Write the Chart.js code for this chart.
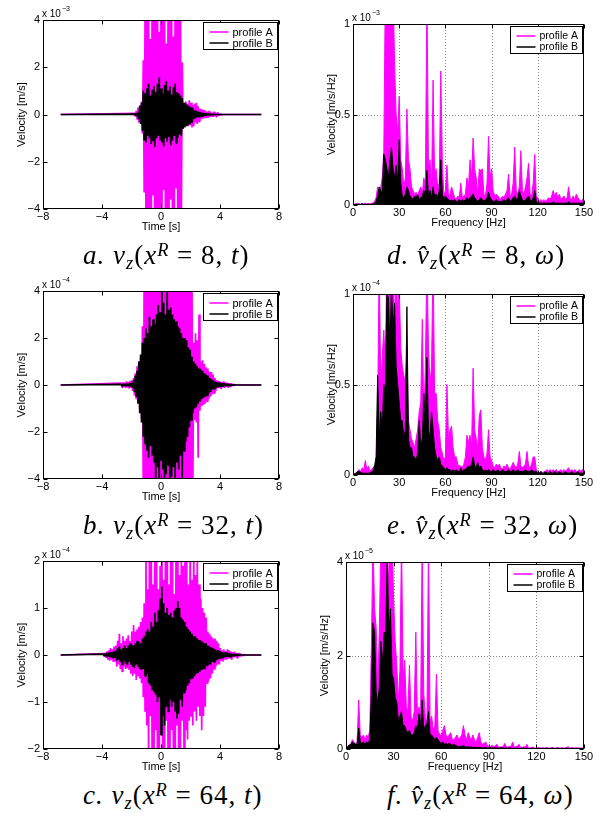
<!DOCTYPE html>
<html>
<head>
<meta charset="utf-8">
<script src="https://cdn.jsdelivr.net/npm/chart.js@4.4.1/dist/chart.umd.min.js"></script>
<style>
  body { margin: 0; background: #fff; width: 614px; height: 817px; position: relative; overflow: hidden; }
  canvas { position: absolute; }
  .cap { position: absolute; font-family: "Liberation Serif", serif; font-size: 27px; line-height: 27px; letter-spacing: 1px; white-space: nowrap; color: #000; }
  .cap .sb { position: relative; top: 0.28em; font-size: 68%; font-style: italic; }
  .cap .sp { position: relative; top: -0.42em; font-size: 68%; font-style: italic; }
</style>
</head>
<body>
<canvas id="pa" width="300" height="240" style="left:0;top:0"></canvas>
<canvas id="pd" width="314" height="240" style="left:300px;top:0"></canvas>
<canvas id="pb" width="300" height="240" style="left:0;top:270px"></canvas>
<canvas id="pe" width="314" height="240" style="left:300px;top:270px"></canvas>
<canvas id="pc" width="300" height="240" style="left:0;top:540px"></canvas>
<canvas id="pf" width="314" height="240" style="left:300px;top:540px"></canvas>

<div class="cap" style="left:83px;top:242px"><i>a.</i>&nbsp;<i>v</i><span class="sb">z</span>(<i>x</i><span class="sp">R</span> = 8, <i>t</i>)</div>
<div class="cap" style="left:387px;top:242px"><i>d.</i>&nbsp;<i>v̂</i><span class="sb">z</span>(<i>x</i><span class="sp">R</span> = 8, <i>ω</i>)</div>
<div class="cap" style="left:83px;top:512px"><i>b.</i>&nbsp;<i>v</i><span class="sb">z</span>(<i>x</i><span class="sp">R</span> = 32, <i>t</i>)</div>
<div class="cap" style="left:387px;top:512px"><i>e.</i>&nbsp;<i>v̂</i><span class="sb">z</span>(<i>x</i><span class="sp">R</span> = 32, <i>ω</i>)</div>
<div class="cap" style="left:83px;top:782px"><i>c.</i>&nbsp;<i>v</i><span class="sb">z</span>(<i>x</i><span class="sp">R</span> = 64, <i>t</i>)</div>
<div class="cap" style="left:387px;top:782px"><i>f.</i>&nbsp;<i>v̂</i><span class="sb">z</span>(<i>x</i><span class="sp">R</span> = 64, <i>ω</i>)</div>

<script>
// record runs from -6.8 s to 6.8 s, quiet (zero) outside the listed samples
const recordStart = -6.8;
const recordEnd = 6.8;
const timeStep = 0.06;   // s between listed samples
const freqStep = 1;      // Hz between spectrum samples, starting at 0 Hz

// a. x^R = 8, velocity in 1e-3 m/s, samples from aStart
const aStart = -1.8;
const aProfileA = [
  0.05,-0.08,0.15,-0.2,0.3,-0.35,0.4,-0.3,0.55,-0.8,
  2.3,-3.3,4.6,-4.8,5.2,-4.5,4.8,-5.1,3.2,-4.9,
  5.3,-3.4,4.5,-5.4,4.9,-4.3,5.5,-4.4,3.5,-5.0,
  4.6,-5.3,4.8,-3.2,5.6,-4.8,3.0,-5.2,4.7,-4.7,
  5.1,-3.6,4.5,-5.0,3.3,-4.6,5.3,-3.1,4.3,-4.9,
  4.8,-4.3,4.9,-4.4,2.2,-0.6,0.5,-0.45,0.55,-0.4,
  0.45,-0.5,0.6,-0.45,0.5,-0.55,0.4,-0.5,0.45,-0.35,
  0.5,-0.4,0.35,-0.3,0.25,-0.2,0.22,-0.18,0.2,-0.15,
  0.18,-0.15,0.12,-0.14,0.15,-0.1,0.12,-0.1,0.08,-0.1,
  0.12,-0.08,0.06,-0.12,0.1,-0.06,0.04,-0.03,0.02,-0.01,
  0
];
const aProfileB = [
  0.02,-0.03,0.05,-0.06,0.1,-0.2,0.35,-0.4,0.5,-0.7,
  1.0,-1.1,0.9,-1.2,1.1,-0.9,1.3,-1.0,0.8,-1.25,
  1.05,-1.1,1.2,-1.37,0.95,-1.0,1.3,-0.9,1.57,-1.1,
  1.1,-1.2,0.9,-1.35,1.25,-1.0,1.4,-1.15,1.0,-0.95,
  1.2,-1.3,0.85,-1.1,1.15,-0.9,1.3,-1.2,0.95,-1.0,
  0.9,-0.85,0.8,-0.9,0.7,-0.6,0.5,-0.55,0.45,-0.5,
  0.4,-0.45,0.35,-0.4,0.3,-0.35,0.25,-0.2,0.18,-0.15,
  0.15,-0.12,0.12,-0.1,0.1,-0.08,0.08,-0.1,0.06,-0.05,
  0.05,-0.05,0.04,-0.03,0.04,-0.03,0.02,-0.02,0.02,-0.01,
  0,0,0,0,0,0,0,0,0,0,
  0
];

// b. x^R = 32, velocity in 1e-4 m/s
const bStart = -2.7;
const bProfileA = [
  0.08,-0.1,0.12,-0.08,0.1,-0.12,0.15,-0.1,0.12,-0.15,0.18,-0.12,0.2,-0.25,0.3,
  -0.45,0.5,-0.6,0.8,-0.7,1.0,-1.1,1.2,-1.4,2.5,
  -4.8,5.2,-5.6,4.6,-5.1,5.8,-4.5,5.3,-5.9,4.9,
  -5.2,5.6,-4.7,5.1,-5.5,4.8,-6.0,5.4,-4.9,5.7,
  -5.3,4.7,-5.8,5.5,-4.6,5.9,-5.1,4.8,-5.6,5.2,
  -4.9,5.6,-5.4,4.6,-5.7,5.1,-4.8,5.5,-5.2,4.9,
  -5.6,5.3,-4.7,5.8,-5.0,4.6,-5.4,5.1,-4.5,4.8,
  -5.2,4.4,-4.9,4.6,-4.3,4.5,-4.2,
  1.8,-1.5,2.2,-1.6,1.9,-3.1,3.0,
  -1.1,1.0,-0.9,1.05,-0.85,0.9,-0.8,0.75,-0.7,0.7,-0.6,0.55,-0.5,0.55,
  -0.4,0.45,-0.35,0.3,-0.25,0.2,
  -0.15,0.18,-0.12,0.15,-0.18,0.12,-0.1,0.15,-0.12,0.1,-0.08,0.1,-0.12,0.08,-0.06,0.08,-0.05,
  0.04,-0.03,0.02,-0.01,0
];
const bProfileB = [
  0.03,-0.04,0.05,-0.03,0.04,-0.05,0.06,-0.04,0.05,-0.06,0.08,-0.06,0.1,-0.12,0.2,
  -0.3,0.4,-0.5,0.6,-0.8,1.0,-1.2,1.3,-1.6,1.8,
  -2.2,2.0,-2.5,2.4,-2.8,2.2,-3.1,2.9,-2.6,2.5,-3.0,
  2.8,-3.3,2.6,-4.2,3.0,-3.5,3.4,-4.5,3.1,-3.2,4.3,
  -3.6,3.5,-4.4,3.0,-3.8,4.2,-3.4,3.2,-4.6,3.3,-3.9,3.0,-3.5,2.8,
  -4.3,2.7,-3.3,2.5,-3.6,2.4,-3.0,2.2,-4.1,2.0,-2.8,2.0,
  -2.4,1.9,-2.2,1.6,-1.8,1.5,-1.5,1.2,-1.2,
  1.0,-1.0,0.9,-0.95,0.8,-0.8,0.7,
  -0.7,0.65,-0.6,0.6,-0.55,0.5,-0.5,0.45,-0.45,0.4,-0.35,0.3,-0.3,0.25,
  -0.2,0.2,-0.15,0.15,-0.12,0.12,
  -0.1,0.1,-0.08,0.1,-0.08,0.06,-0.06,0.08,-0.05,0.05,-0.04,0.05,-0.04,0.03,-0.03,0.03,-0.02,
  0.02,-0.01,0.01,0,0
];

// c. x^R = 64, velocity in 1e-4 m/s
const cStart = -3.9;
const cProfileA = [
  0.03,-0.04,0.05,-0.06,0.08,-0.1,0.1,-0.12,0.15,-0.1,0.12,-0.15,0.18,-0.14,0.2,
  -0.25,0.3,-0.2,0.45,-0.3,0.25,-0.35,0.4,-0.25,0.3,-0.3,0.35,-0.28,0.42,-0.32,0.3,-0.4,
  0.5,-0.45,0.64,-0.4,0.5,-0.53,0.55,-0.45,0.6,-0.5,0.7,-0.6,0.8,
  -0.9,1.1,-1.2,2.4,-1.5,1.4,-2.3,2.6,-1.3,2.2,
  -2.5,1.5,-2.8,2.4,-1.6,2.9,-2.4,1.4,-2.6,1.9,
  -1.5,2.7,-2.4,1.6,-2.9,2.3,-1.4,2.8,-2.5,1.5,
  -2.7,2.4,-1.6,2.6,-2.3,1.3,-2.8,2.5,-1.5,2.3,
  -2.6,1.7,-2.2,2.2,-1.4,1.9,-2.1,2.7,-1.6,2.4,
  -1.8,1.5,-1.4,2.5,-1.3,1.6,-1.5,2.3,-1.2,1.7,
  -1.4,2.1,-1.1,1.5,-1.3,
  1.2,-1.6,1.0,-1.3,0.9,-1.1,0.8,
  -0.6,0.5,-0.55,0.45,-0.5,0.4,-0.4,0.35,-0.3,0.35,-0.25,0.3,-0.2,0.25,-0.2,
  0.15,-0.12,0.1,-0.14,0.12,-0.1,0.08,-0.1,0.12,-0.08,0.1,-0.06,0.08,-0.1,0.06,-0.05,0.07,-0.05,0.04,-0.06,0.05,-0.03,0.04,-0.03,0.02,
  -0.02,0.01,-0.01,0
];
const cProfileB = [
  0.02,-0.02,0.03,-0.03,0.04,-0.03,0.05,-0.04,0.06,-0.05,0.06,-0.07,0.08,-0.06,0.1,
  -0.12,0.15,-0.1,0.18,-0.15,0.12,-0.2,0.15,-0.12,0.2,-0.18,0.15,-0.22,0.2,-0.15,0.25,-0.2,
  0.22,-0.25,0.2,-0.28,0.25,-0.2,0.3,-0.25,0.28,-0.3,0.25,-0.32,0.35,
  -0.3,0.4,-0.45,0.5,-0.4,0.55,-0.6,0.5,-0.65,0.7,
  -0.75,0.6,-0.8,0.9,-0.85,0.7,-1.0,0.95,-0.9,1.2,
  -1.7,1.45,-1.3,1.1,-1.5,0.9,-1.1,1.0,-1.2,0.85,
  -0.95,0.9,-1.1,0.8,-1.0,0.95,-1.2,1.0,-1.35,1.15,
  -1.25,1.0,-0.95,0.8,-1.1,0.75,-0.8,0.7,-0.75,0.6,
  -0.65,0.55,-0.6,0.5,-0.5,0.45,-0.5,0.4,-0.45,0.4,
  -0.4,0.35,-0.38,0.32,-0.35,
  0.3,-0.32,0.28,-0.3,0.25,-0.3,0.25,
  -0.22,0.2,-0.2,0.18,-0.2,0.16,-0.15,0.14,-0.15,0.12,-0.12,0.1,-0.1,0.1,-0.08,
  0.08,-0.07,0.06,-0.07,0.05,-0.05,0.06,-0.04,0.05,-0.04,0.03,-0.04,0.03,-0.03,0.02,-0.03,0.02,-0.02,0.02,-0.01,0.01,-0.01,0.01,0,0,
  0,0,0,0
];

// d. spectrum x^R = 8, in 1e-3 m/s/Hz, 0..150 Hz
const dProfileA = [
  0,0.005,0.005,0.01,0.005,0.005,0.008,0.005,0.01,0.005,
  0.008,0.005,0.01,0.01,0.02,0.04,0.1,0.06,0.1,0.15,
  0.3,1.2,1.3,1.2,1.4,1.3,1.2,0.78,0.5,0.4,
  0.6,0.25,0.2,0.1,0.15,0.53,0.25,0.2,0.1,0.08,
  0.06,0.07,0.05,0.08,0.1,0.06,0.15,0.1,1.2,0.2,
  0.25,0.1,0.69,0.15,0.2,0.1,0.12,0.74,0.25,0.05,
  0.08,0.22,0.05,0.06,0.1,0.07,0.04,0.03,0.05,0.04,
  0.12,0.04,0.05,0.06,0.15,0.1,0.25,0.15,0.37,0.2,
  0.15,0.06,0.2,0.19,0.2,0.06,0.05,0.12,0.38,0.15,
  0.2,0.08,0.05,0.06,0.05,0.04,0.03,0.05,0.04,0.06,
  0.08,0.17,0.05,0.06,0.12,0.32,0.08,0.06,0.1,0.3,
  0.08,0.06,0.1,0.15,0.23,0.06,0.05,0.12,0.28,0.05,
  0.04,0.02,0.03,0.02,0.03,0.02,0.03,0.04,0.03,0.05,
  0.08,0.05,0.07,0.04,0.06,0.03,0.04,0.05,0.03,0.04,
  0.1,0.04,0.03,0.05,0.03,0.06,0.04,0.03,0.02,0.03,0.04
];
const dProfileB = [
  0,0.003,0.005,0.003,0.005,0.003,0.008,0.003,0.005,0.003,
  0.005,0.003,0.005,0.005,0.01,0.02,0.05,0.1,0.08,0.06,
  0.28,0.25,0.2,0.15,0.25,0.32,0.2,0.15,0.22,0.12,
  0.36,0.12,0.05,0.04,0.06,0.1,0.08,0.05,0.04,0.03,
  0.05,0.04,0.06,0.03,0.04,0.05,0.08,0.06,0.19,0.05,
  0.08,0.04,0.1,0.05,0.06,0.04,0.08,0.25,0.06,0.03,
  0.05,0.04,0.03,0.02,0.03,0.02,0.03,0.02,0.02,0.03,
  0.02,0.03,0.02,0.03,0.04,0.03,0.04,0.05,0.06,0.04,
  0.03,0.02,0.03,0.04,0.03,0.02,0.03,0.04,0.07,0.04,
  0.03,0.02,0.02,0.03,0.02,0.02,0.02,0.02,0.03,0.02,
  0.03,0.04,0.02,0.03,0.04,0.05,0.03,0.04,0.08,0.05,
  0.03,0.02,0.03,0.04,0.05,0.03,0.02,0.04,0.08,0.02,
  0.01,0.01,0.01,0.01,0.01,0.01,0.01,0.01,0.01,0.01,
  0.02,0.01,0.01,0.01,0.01,0.01,0.01,0.01,0.01,0.01,
  0.02,0.01,0.01,0.01,0.01,0.01,0.01,0.01,0.01,0.01,0.01
];

// e. spectrum x^R = 32, in 1e-4 m/s/Hz
const eProfileA = [
  0,0.01,0.01,0.02,0.03,0.02,0.04,0.03,0.08,0.03,
  0.05,0.02,0.03,0.04,0.05,0.05,0.35,1.2,0.5,0.65,
  0.8,0.6,1.2,1.3,1.25,1.3,1.2,0.85,1.1,0.9,
  1.05,0.7,0.6,0.55,0.5,0.7,0.3,0.25,0.2,0.18,
  0.15,0.2,0.25,0.35,0.4,0.86,0.3,0.6,1.2,0.7,
  0.5,0.6,1.2,0.45,0.45,0.3,0.25,0.15,0.12,0.08,
  0.1,0.5,0.2,0.25,0.27,0.15,0.1,0.1,0.06,0.05,
  0.05,0.04,0.06,0.1,0.22,0.18,0.22,0.15,0.59,0.25,
  0.2,0.15,0.33,0.36,0.15,0.1,0.08,0.12,0.25,0.1,
  0.08,0.05,0.04,0.06,0.05,0.06,0.04,0.03,0.05,0.04,
  0.06,0.04,0.03,0.05,0.07,0.05,0.04,0.06,0.13,0.05,
  0.04,0.05,0.06,0.13,0.05,0.04,0.06,0.1,0.1,0.03,
  0.02,0.01,0.02,0.01,0.02,0.02,0.03,0.02,0.03,0.02,
  0.03,0.02,0.03,0.02,0.02,0.03,0.02,0.03,0.02,0.03,
  0.04,0.02,0.03,0.02,0.03,0.02,0.02,0.03,0.02,0.03,0.02
];
const eProfileB = [
  0,0.005,0.01,0.02,0.02,0.015,0.01,0.01,0.01,0.01,
  0.01,0.01,0.02,0.02,0.05,0.1,0.55,0.2,0.35,0.25,
  0.5,0.45,1.0,0.98,0.7,1.05,0.8,0.95,0.6,0.5,
  0.4,0.3,0.3,0.2,0.25,0.93,0.2,0.15,0.15,0.1,
  0.1,0.08,0.12,0.3,0.15,0.2,0.45,0.3,0.65,0.25,
  0.2,0.35,0.25,0.15,0.1,0.08,0.1,0.06,0.05,0.04,
  0.03,0.04,0.03,0.03,0.02,0.03,0.02,0.03,0.02,0.02,
  0.04,0.02,0.03,0.03,0.04,0.05,0.04,0.06,0.1,0.05,
  0.04,0.07,0.04,0.05,0.03,0.02,0.03,0.02,0.03,0.02,
  0.02,0.03,0.02,0.02,0.03,0.02,0.02,0.03,0.02,0.02,
  0.02,0.03,0.02,0.02,0.03,0.02,0.02,0.03,0.02,0.02,
  0.02,0.02,0.03,0.02,0.02,0.02,0.03,0.02,0.02,0.02,
  0.01,0.01,0.02,0.01,0.01,0.02,0.01,0.01,0.02,0.01,
  0.01,0.02,0.01,0.01,0.02,0.01,0.01,0.01,0.02,0.01,
  0.01,0.01,0.02,0.01,0.01,0.01,0.02,0.01,0.01,0.01,0.01
];

// f. spectrum x^R = 64, in 1e-5 m/s/Hz
const fProfileA = [
  0,0.05,0.08,0.1,0.2,0.15,0.1,0.15,1.05,0.3,
  0.25,0.3,0.2,0.3,0.25,0.4,2.2,4.5,3.0,2.6,
  1.4,2.5,4.5,4.6,4.5,4.7,4.4,3.5,4.5,4.6,
  3.2,2.3,1.8,1.0,1.7,4.5,1.5,1.9,0.9,0.8,
  1.8,0.7,0.6,0.8,2.5,0.7,0.9,0.6,4.5,1.2,
  0.7,0.5,4.5,0.6,0.7,0.4,0.5,1.6,0.4,0.3,
  0.3,0.4,0.5,0.3,0.25,0.3,0.35,0.2,0.2,0.25,
  0.3,0.2,0.25,0.3,0.5,0.3,0.2,0.35,0.25,0.2,
  0.3,0.2,0.15,0.25,0.35,0.15,0.1,0.12,0.15,0.08,
  0.06,0.05,0.08,0.05,0.06,0.1,0.05,0.04,0.05,0.04,
  0.12,0.05,0.04,0.06,0.05,0.15,0.04,0.05,0.06,0.1,
  0.04,0.03,0.05,0.04,0.1,0.03,0.02,0.03,0.04,0.02,
  0.02,0.03,0.02,0.02,0.03,0.02,0.02,0.03,0.02,0.02,
  0.03,0.02,0.02,0.03,0.02,0.02,0.03,0.02,0.02,0.03,
  0.05,0.02,0.03,0.02,0.02,0.03,0.02,0.02,0.02,0.02,0.02
];
const fProfileB = [
  0,0.05,0.08,0.1,0.15,0.12,0.1,0.1,0.45,0.15,
  0.12,0.15,0.1,0.15,0.12,0.2,1.2,2.7,2.5,1.2,
  1.0,1.3,2.3,1.8,2.5,2.4,4.2,2.4,3.0,1.6,
  1.5,1.1,1.0,0.6,0.7,0.8,0.5,0.5,0.4,0.35,
  0.4,0.3,0.3,0.35,0.5,0.4,0.75,0.5,1.05,0.4,
  0.5,0.55,0.8,0.3,0.3,0.25,0.2,0.25,0.2,0.15,
  0.12,0.15,0.1,0.12,0.1,0.12,0.1,0.08,0.1,0.08,
  0.06,0.05,0.06,0.05,0.08,0.05,0.04,0.05,0.04,0.04,
  0.03,0.04,0.03,0.03,0.04,0.03,0.02,0.03,0.03,0.02,
  0.02,0.03,0.02,0.02,0.03,0.02,0.02,0.02,0.03,0.02,
  0.02,0.02,0.01,0.02,0.02,0.01,0.02,0.01,0.02,0.01,
  0.01,0.02,0.02,0.01,0.02,0.01,0.01,0.02,0.01,0.01,
  0.01,0.01,0.02,0.01,0.01,0.01,0.02,0.01,0.01,0.01,
  0.02,0.01,0.01,0.01,0.02,0.01,0.01,0.01,0.01,0.02,
  0.01,0.01,0.01,0.02,0.01,0.01,0.01,0.01,0.01,0.01,0.01
];

const legendLabels = ['profile A', 'profile B'];
const colorA = '#ff00ff';
const colorB = '#000000';

function timePoints(start, vals) {
  const pts = [{ x: recordStart, y: 0 }];
  vals.forEach((v, i) => pts.push({ x: +(start + i * timeStep).toFixed(3), y: v }));
  pts.push({ x: recordEnd, y: 0 });
  return pts;
}
function specPoints(vals) {
  return vals.map((v, i) => ({ x: i * freqStep, y: v }));
}
const fmt = v => (v < 0 ? '\u2212' : '') + Math.abs(v);

// MATLAB style box, inward ticks, dotted grid, legend and exponent label
const matlabAxes = {
  id: 'matlabAxes',
  beforeDatasetsDraw(chart, args, o) {
    if (!o.grid) return;
    const { ctx, chartArea: a, scales: { x, y } } = chart;
    ctx.save();
    ctx.strokeStyle = '#8a8a8a';
    ctx.lineWidth = 1;
    ctx.setLineDash([1, 2]);
    x.ticks.forEach(t => {
      const px = Math.round(x.getPixelForValue(t.value)) + 0.5;
      if (px < a.left + 2 || px > a.right - 2) return;
      ctx.beginPath(); ctx.moveTo(px, a.top); ctx.lineTo(px, a.bottom); ctx.stroke();
    });
    y.ticks.forEach(t => {
      const py = Math.round(y.getPixelForValue(t.value)) + 0.5;
      if (py < a.top + 2 || py > a.bottom - 2) return;
      ctx.beginPath(); ctx.moveTo(a.left, py); ctx.lineTo(a.right, py); ctx.stroke();
    });
    ctx.restore();
  },
  afterDatasetsDraw(chart, args, o) {
    const { ctx, chartArea: a, scales: { x, y } } = chart;
    const L = Math.round(a.left) + 0.5, R = Math.round(a.right) - 0.5;
    const T = Math.round(a.top) + 0.5, B = Math.round(a.bottom) - 0.5;
    ctx.save();
    ctx.strokeStyle = '#000';
    ctx.lineWidth = 1;
    ctx.strokeRect(L, T, R - L, B - T);
    const tl = 4;
    ctx.beginPath();
    x.ticks.forEach(t => {
      const px = Math.round(x.getPixelForValue(t.value)) + 0.5;
      ctx.moveTo(px, B); ctx.lineTo(px, B - tl);
      ctx.moveTo(px, T); ctx.lineTo(px, T + tl);
    });
    y.ticks.forEach(t => {
      const py = Math.round(y.getPixelForValue(t.value)) + 0.5;
      ctx.moveTo(L, py); ctx.lineTo(L + tl, py);
      ctx.moveTo(R, py); ctx.lineTo(R - tl, py);
    });
    ctx.stroke();

    // exponent
    ctx.fillStyle = '#000';
    ctx.textAlign = 'left';
    ctx.textBaseline = 'alphabetic';
    ctx.font = '10px "Liberation Sans", Arial, sans-serif';
    ctx.fillText('x 10', a.left - 1, a.top - 3);
    const w = ctx.measureText('x 10').width;
    ctx.font = '7px "Liberation Sans", Arial, sans-serif';
    ctx.fillText(o.exp, a.left + w, a.top - 9);

    // axis titles
    ctx.font = '11px "Liberation Sans", Arial, sans-serif';
    ctx.textAlign = 'center';
    ctx.textBaseline = 'middle';
    ctx.fillText(o.xTitle, (a.left + a.right) / 2, a.bottom + 17.5);
    ctx.save();
    ctx.translate(a.left - 21, (a.top + a.bottom) / 2);
    ctx.rotate(-Math.PI / 2);
    ctx.fillText(o.yTitle, 0, 0);
    ctx.restore();

    // legend
    const bw = o.legendW, bh = 27;
    const bx = Math.round(a.right - 2 - bw) + 0.5, by = Math.round(a.top + 2) + 0.5;
    ctx.fillStyle = '#fff';
    ctx.fillRect(bx, by, bw, bh);
    ctx.strokeStyle = '#000';
    ctx.strokeRect(bx, by, bw, bh);
    [colorA, colorB].forEach((c, i) => {
      const ly = by + 9.5 + i * 11;
      ctx.strokeStyle = c;
      ctx.lineWidth = 1.5;
      ctx.beginPath(); ctx.moveTo(bx + 6, ly); ctx.lineTo(bx + 25, ly); ctx.stroke();
      ctx.fillStyle = '#000';
      ctx.textAlign = 'left';
      ctx.font = o.legendFont + 'px "Liberation Sans", Arial, sans-serif';
      ctx.fillText(legendLabels[i], bx + 29, ly + 0.5);
    });
    ctx.restore();
  }
};

const panels = [
  { id: 'pa', area: [43, 20, 279, 209], x: [-8, 8, 4], y: [-4, 4, 2], exp: '\u22123', xTitle: 'Time [s]', yTitle: 'Velocity [m/s]',
    grid: false, fill: false, legendW: 74, legendFont: 11, A: timePoints(aStart, aProfileA), B: timePoints(aStart, aProfileB) },
  { id: 'pb', area: [43, 21, 279, 209], x: [-8, 8, 4], y: [-4, 4, 2], exp: '\u22124', xTitle: 'Time [s]', yTitle: 'Velocity [m/s]',
    grid: false, fill: false, legendW: 74, legendFont: 11, A: timePoints(bStart, bProfileA), B: timePoints(bStart, bProfileB) },
  { id: 'pc', area: [43, 21, 279, 209], x: [-8, 8, 4], y: [-2, 2, 1], exp: '\u22124', xTitle: 'Time [s]', yTitle: 'Velocity [m/s]',
    grid: false, fill: false, legendW: 74, legendFont: 11, A: timePoints(cStart, cProfileA), B: timePoints(cStart, cProfileB) },
  { id: 'pd', area: [53, 24, 284, 205], x: [0, 150, 30], y: [0, 1, 0.5], exp: '\u22123', xTitle: 'Frequency [Hz]', yTitle: 'Velocity [m/s/Hz]',
    grid: true, fill: true, legendW: 72, legendFont: 10.5, A: specPoints(dProfileA), B: specPoints(dProfileB) },
  { id: 'pe', area: [53, 24, 284, 205], x: [0, 150, 30], y: [0, 1, 0.5], exp: '\u22124', xTitle: 'Frequency [Hz]', yTitle: 'Velocity [m/s/Hz]',
    grid: true, fill: true, legendW: 72, legendFont: 10.5, A: specPoints(eProfileA), B: specPoints(eProfileB) },
  { id: 'pf', area: [46, 22, 284, 209], x: [0, 150, 30], y: [0, 4, 2], exp: '\u22125', xTitle: 'Frequency [Hz]', yTitle: 'Velocity [m/s/Hz]',
    grid: true, fill: true, legendW: 75, legendFont: 10.5, A: specPoints(fProfileA), B: specPoints(fProfileB) }
];

const tickFont = { family: '"Liberation Sans", Arial, sans-serif', size: 11 };

panels.forEach(p => {
  const cv = document.getElementById(p.id);
  const W = cv.width, H = cv.height;
  const [l, t, r, b] = p.area;
  const lw = p.fill ? 1 : 1.7;
  new Chart(cv, {
    type: 'line',
    data: {
      datasets: [
        // profile B is drawn over profile A
        { label: legendLabels[0], data: p.A, order: 2, borderWidth: lw, borderJoinStyle: 'bevel', borderColor: colorA, backgroundColor: colorA, fill: p.fill ? 'origin' : false },
        { label: legendLabels[1], data: p.B, order: 1, borderWidth: lw, borderJoinStyle: 'bevel', borderColor: colorB, backgroundColor: colorB, fill: p.fill ? 'origin' : false }
      ]
    },
    options: {
      responsive: false,
      animation: false,
      events: [],
      elements: { point: { radius: 0 }, line: { tension: 0 } },
      layout: { padding: { left: 0, top: t, right: W - r, bottom: 0 } },
      plugins: {
        legend: { display: false },
        tooltip: { enabled: false },
        matlabAxes: { grid: p.grid, exp: p.exp, xTitle: p.xTitle, yTitle: p.yTitle, legendW: p.legendW, legendFont: p.legendFont }
      },
      scales: {
        x: {
          type: 'linear', min: p.x[0], max: p.x[1],
          ticks: { stepSize: p.x[2], padding: 1, font: tickFont, color: '#000', callback: fmt, maxRotation: 0, autoSkip: false },
          grid: { display: false, drawTicks: false }, border: { display: false },
          afterFit: s => { s.height = H - b; }
        },
        y: {
          type: 'linear', min: p.y[0], max: p.y[1],
          ticks: { stepSize: p.y[2], padding: 3, font: tickFont, color: '#000', callback: fmt },
          grid: { display: false, drawTicks: false }, border: { display: false },
          afterFit: s => { s.width = l; }
        }
      }
    },
    plugins: [matlabAxes]
  });
});
</script>
</body>
</html>
